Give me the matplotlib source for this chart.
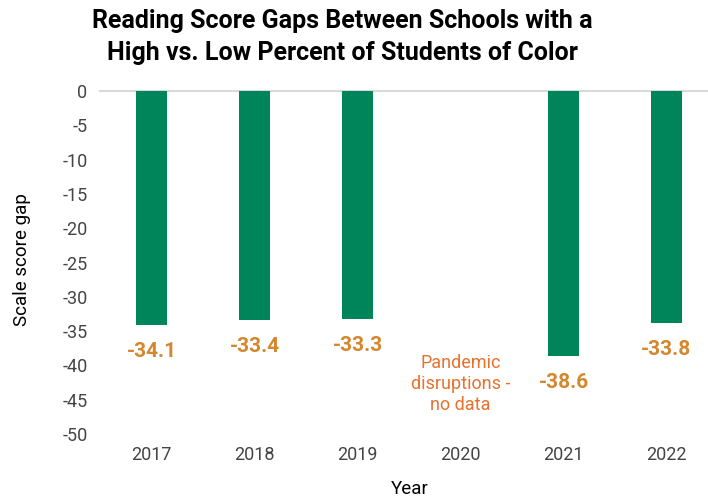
import numpy as np
import matplotlib.pyplot as plt

plt.rcParams['font.family'] = ['Roboto', 'DejaVu Sans']
plt.rcParams['axes.unicode_minus'] = False

years = ['2017', '2018', '2019', '2020', '2021', '2022']
gaps = [-34.1, -33.4, -33.3, np.nan, -38.6, -33.8]
no_data_note = 'Pandemic\ndisruptions -\nno data'

bar_color = '#00845A'
label_color = '#D4872C'
note_color = '#E8712E'
tick_color = '#444444'

fig = plt.figure(figsize=(7.08, 4.98), dpi=100)
ax = fig.add_axes([100 / 708, 1 - 434 / 498, 618 / 708, 343 / 498])

x = np.arange(len(years))
ax.bar(x, np.nan_to_num(gaps), width=0.31, color=bar_color, zorder=2)

for xi, g in zip(x, gaps):
    if np.isnan(g):
        ax.text(xi, -42.7, no_data_note, ha='center', va='center',
                color=note_color, fontsize=13, linespacing=1.2)
        continue
    ax.annotate(f'{g:.1f}', (xi, g), xytext=(0, -19), textcoords='offset points',
                ha='center', va='center', color=label_color,
                fontsize=15, fontweight='bold')

ax.axhline(0, color='#d9d9d9', lw=1.5, zorder=1, clip_on=False)
ax.set_xlim(-0.5, 5.5)
ax.set_ylim(-50, 0)
ax.set_yticks(np.arange(-50, 1, 5))
ax.set_xticks(x)
ax.set_xticklabels(years)
ax.tick_params(length=0, colors=tick_color, labelsize=13)
ax.tick_params(axis='x', pad=9)
ax.tick_params(axis='y', pad=9)
for s in ax.spines.values():
    s.set_visible(False)

fig.text(410 / 708, 1 - 489 / 498, 'Year', ha='center', va='center', fontsize=13.5)
fig.text(22 / 708, 1 - 260 / 498, 'Scale score gap', ha='center', va='center',
         rotation=90, fontsize=13.5)

fig.text(342 / 708, 1 - 37 / 498, 'Reading Score Gaps Between Schools with a\nHigh vs. Low Percent of Students of Color',
         ha='center', va='center', fontsize=18, fontweight='bold', linespacing=1.4)

fig.savefig('out.png', dpi=100)
